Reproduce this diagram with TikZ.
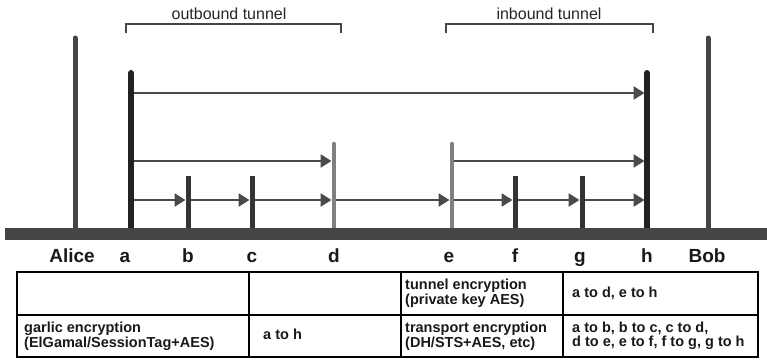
\documentclass[tikz,border=0pt]{standalone}
\usepackage{fontspec}
\setmainfont{Liberation Sans}
\usetikzlibrary{arrows.meta}
\definecolor{bargray}{HTML}{454545}
\definecolor{darkbar}{HTML}{222222}
\definecolor{midbar}{HTML}{333333}
\definecolor{lightbar}{HTML}{808080}
\definecolor{arrgray}{HTML}{4A4A4A}
\begin{document}
\begin{tikzpicture}[x=1pt,y=-1pt,
  arr/.style={draw=arrgray,line width=2.6pt,-{Triangle[length=11pt,width=13pt]},shorten >=2.5pt},
  endbar/.style={draw=bargray,line width=5pt,line cap=round},
  hopbar/.style={draw=darkbar,line width=6pt,line cap=round},
  midhop/.style={draw=midbar,line width=5pt},
  gwbar/.style={draw=lightbar,line width=4.5pt,line cap=round},
  lbl/.style={font=\fontsize{19}{21}\selectfont\bfseries,text=black!90,anchor=base,inner sep=0pt},
  brk/.style={draw=bargray,line width=1.4pt},
  brklbl/.style={font=\fontsize{16}{18}\selectfont,text=black!85},
  cell/.style={font=\fontsize{14.5}{12.5}\selectfont\bfseries,align=left,anchor=west,inner sep=0pt,text=black!90}]
\useasboundingbox (0,0) rectangle (767,360);

% positions of the bars
\foreach \n/\x in {alice/75,a/131,b/188,c/252,d/334,e/452,f/515,g/582,h/647,bob/708}{
  \coordinate (\n) at (\x,230);
  \coordinate (\n1) at (\x,93);
  \coordinate (\n2) at (\x,161);
  \coordinate (\n3) at (\x,200);
}

% arrows
\draw[arr] (a1) -- (h1);
\draw[arr] (a2) -- (d2);
\draw[arr] (e2) -- (h2);
\draw[arr] (a3) -- (b3);
\draw[arr] (b3) -- (c3);
\draw[arr] (c3) -- (d3);
\draw[arr] (d3) -- (e3);
\draw[arr] (e3) -- (f3);
\draw[arr] (f3) -- (g3);
\draw[arr] (g3) -- (h3);

% vertical bars
\draw[endbar] (alice) -- (75,38);
\draw[endbar] (bob) -- (708,38);
\draw[hopbar] (a) -- (131,73);
\draw[hopbar] (h) -- (647,73);
\draw[midhop] (b) -- (188,176);
\draw[midhop] (c) -- (252,176);
\draw[midhop] (f) -- (515,176);
\draw[midhop] (g) -- (582,176);
\draw[gwbar] (d) -- (334,144);
\draw[gwbar] (e) -- (452,144);

% ground bar
\fill[bargray] (5,228) rectangle (767,240);

% labels
\node[lbl] (lalice) at (72,262) {Alice};
\node[lbl] (la) at (125,262) {a};
\node[lbl] (lb) at (188,262) {b};
\node[lbl] (lc) at (252,262) {c};
\node[lbl] (ld) at (334,262) {d};
\node[lbl] (le) at (449,262) {e};
\node[lbl] (lf) at (515,262) {f};
\node[lbl] (lg) at (580,262) {g};
\node[lbl] (lh) at (647,262) {h};
\node[lbl] (lbob) at (707,262) {Bob};

% brackets
\draw[brk] (126,33) -- (126,24) -- (341,24) -- (341,33);
\node[brklbl] (out) at (229,14) {outbound tunnel};
\draw[brk] (446,33) -- (446,24) -- (653,24) -- (653,33);
\node[brklbl] (in) at (549,14) {inbound tunnel};

% table
\draw[line width=1.2pt] (17,315) -- (758,315);
\draw[line width=1.2pt] (249,272) -- (249,357);
\draw[line width=1.2pt] (401,272) -- (401,357);
\draw[line width=1.2pt] (563,272) -- (563,357);
\draw[line width=2pt] (17,272) rectangle (758,357);

\node[cell] (t1) at (405,293) {tunnel encryption\\(private key AES)};
\node[cell] (t2) at (572,293) {a to d, e to h};
\node[cell] (t3) at (24,336) {garlic encryption\\(ElGamal/SessionTag+AES)};
\node[cell] (t4) at (263,334) {a to h};
\node[cell] (t5) at (405,336) {transport encryption\\(DH/STS+AES, etc)};
\node[cell] (t6) at (572,336) {a to b, b to c, c to d,\\d to e, e to f, f to g, g to h};
\end{tikzpicture}
\end{document}
